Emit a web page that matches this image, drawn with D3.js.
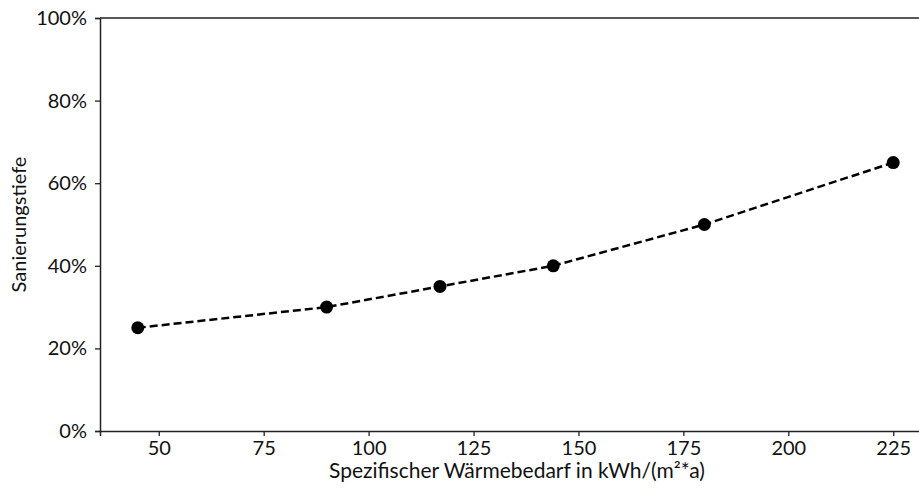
<!DOCTYPE html>
<html>
<head>
<meta charset="utf-8">
<script src="https://cdn.jsdelivr.net/npm/d3@7"></script>
<style>
  body { margin: 0; background: #fff; overflow: hidden; }
  text { font-family: Lato, sans-serif; fill: #111; }
</style>
</head>
<body>
<div id="chart"></div>
<script>
// data
const bedarf = [45, 90, 117, 144, 180, 225];
const tiefe = [0.25, 0.30, 0.35, 0.40, 0.50, 0.65];
const xTicks = [50, 75, 100, 125, 150, 175, 200, 225];
const yTicks = [0, 0.2, 0.4, 0.6, 0.8, 1.0];

const width = 919;
const height = 493;
const margin = {top: 18, left: 100, bottom: 62};
const fs = 20;

const svg = d3.select("#chart")
  .append("svg")
    .attr("width", width)
    .attr("height", height);

// x domain padded like matplotlib, right side runs past the window
let x = d3.scaleLinear()
    .domain([36, 234])
    .range([margin.left, 931]);

let y = d3.scaleLinear()
    .domain([0, 1])
    .range([height - margin.bottom, margin.top]);

const xAxis = svg.append("g")
    .attr("transform", `translate(0, ${y(0)})`)
    .call(d3.axisBottom(x).tickValues(xTicks).tickSize(5).tickPadding(5));

const yAxis = svg.append("g")
    .attr("transform", `translate(${margin.left}, 0)`)
    .call(d3.axisLeft(y).tickValues(yTicks).tickFormat(d3.format(".0%")).tickSize(5).tickPadding(8));

[xAxis, yAxis].forEach(a => {
  a.selectAll("path").attr("stroke", "#222").attr("stroke-width", 1.5);
  a.selectAll("line").attr("stroke", "#222").attr("stroke-width", 1.3);
  a.selectAll("text").attr("font-size", fs).attr("fill", "#111").style("font-family", "Lato, sans-serif");
});

// top spine
svg.append("line")
    .attr("x1", x(36)).attr("x2", x(234))
    .attr("y1", y(1)).attr("y2", y(1))
    .attr("stroke", "#222").attr("stroke-width", 1.5);

const pts = bedarf.map((d, i) => ({x: d, y: tiefe[i]}));

svg.append("path")
    .datum(pts)
    .attr("fill", "none")
    .attr("stroke", "#000")
    .attr("stroke-width", 2.5)
    .attr("stroke-dasharray", "8,4")
    .attr("d", d3.line().x(d => x(d.x)).y(d => y(d.y)));

svg.selectAll(".dot")
    .data(pts)
    .join("circle")
    .attr("class", "dot")
    .attr("cx", d => x(d.x))
    .attr("cy", d => y(d.y))
    .attr("r", 6.5)
    .attr("fill", "#000");

svg.append("text")
    .attr("x", 517)
    .attr("y", 478)
    .attr("text-anchor", "middle")
    .attr("font-size", 21)
    .text("Spezifischer Wärmebedarf in kWh/(m²*a)");

svg.append("text")
    .attr("transform", `translate(26, ${y(0.5)}) rotate(-90)`)
    .attr("text-anchor", "middle")
    .attr("font-size", fs)
    .text("Sanierungstiefe");
</script>
</body>
</html>
